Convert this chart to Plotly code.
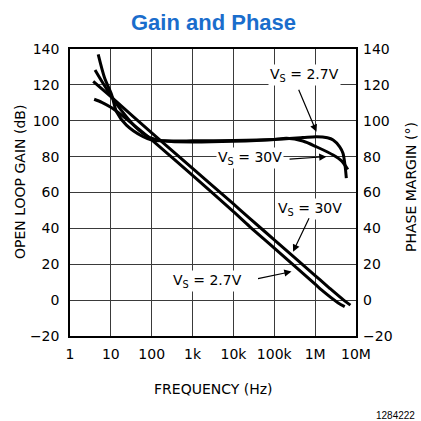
import plotly.graph_objects as go

# ---- data ----
gain_30v_f = [3.7, 10, 100, 1e3, 1e4, 2.5e4, 1e5, 1e6, 2.27e6, 5e6, 7.3e6]
gain_30v_db = [122, 113.4, 93.3, 73.4, 53.6, 45.6, 33.6, 13.7, 6.6, 0, -2.8]

gain_27v_f = [3.9, 6, 10, 20, 50, 100, 1e3, 1e4, 2.5e4, 1e5, 1e6, 1.43e6, 3.6e6, 5.3e6]
gain_27v_db = [112, 110.3, 107.5, 102.5, 95, 89.3, 69.5, 49.3, 41, 29, 8.9, 5.7, -1.4, -3.6]

phase_27v_f = [4.9, 7, 10.5, 13.8, 24, 62, 100, 200, 1e3, 1e4, 1e5, 5e5, 1.07e6, 2e6,
               2.76e6, 4e6, 4.8e6, 5.4e6, 5.8e6]
phase_27v_deg = [137, 124, 114.4, 105, 97.6, 91.1, 89.3, 88.8, 88.8, 89, 89.6, 90.6, 91.1, 90.5,
                 89.3, 85.5, 81.9, 75, 68]

phase_30v_f = [4.1, 6, 10, 20, 40, 80, 150, 300, 1e3, 1e4, 1e5, 2e5, 5e5, 1.07e6, 2.76e6, 4.5e6, 6.3e6]
phase_30v_deg = [128.3, 122, 114, 104.5, 96.5, 91.2, 89.2, 88.4, 88.2, 88.6, 89.6, 90.2, 88.7, 85.5,
                 80.9, 77.5, 72.8]

x_tick_vals = [1, 10, 100, 1e3, 1e4, 1e5, 1e6, 1e7]
x_tick_text = ["1", "10", "100", "1k", "10k", "100k", "1M", "10M"]
y_tick_vals = [-20, 0, 20, 40, 60, 80, 100, 120, 140]
y_tick_text = ["\u221220", "0", "20", "40", "60", "80", "100", "120", "140"]

FONT = "DejaVu Sans"
LW = 3
NB = "\u00a0"

fig = go.Figure()
for f, v, ax in [(gain_30v_f, gain_30v_db, "y"), (gain_27v_f, gain_27v_db, "y"),
                 (phase_27v_f, phase_27v_deg, "y2"), (phase_30v_f, phase_30v_deg, "y2")]:
    fig.add_trace(go.Scatter(x=f, y=v, yaxis=ax, mode="lines",
                             line=dict(color="black", width=LW, shape="spline", smoothing=0.8),
                             showlegend=False, hoverinfo="skip"))

tickfont = dict(family=FONT, size=14, color="black")
axis_common = dict(showgrid=True, gridcolor="#3a3a3a", gridwidth=1, zeroline=False,
                   ticks="", tickfont=tickfont)

fig.update_layout(
    width=421, height=421, autosize=False,
    margin=dict(l=70, r=65, t=49, b=85),
    paper_bgcolor="white", plot_bgcolor="white",
    xaxis=dict(type="log", range=[0, 7], tickvals=x_tick_vals, ticktext=x_tick_text,
               showline=True, linecolor="black", linewidth=1.5, mirror=True,
               ticklabelstandoff=4, **axis_common),
    yaxis=dict(range=[-20, 140], tickvals=y_tick_vals, ticktext=y_tick_text,
               showline=True, linecolor="black", linewidth=1.5, mirror=True,
               ticklabelstandoff=6, **axis_common),
    yaxis2=dict(range=[-20, 140], tickvals=y_tick_vals, ticktext=y_tick_text, overlaying="y",
                side="right", showgrid=False, zeroline=False, ticks="", ticklabelstandoff=6,
                tickfont=tickfont),
)

txt = dict(family=FONT, size=14, color="black")


def paper_note(text, px, py, font, angle=0, xanchor="center"):
    return dict(text=text, xref="paper", yref="paper", x=(px - 70) / 286, y=(336 - py) / 287,
                xanchor=xanchor, yanchor="middle", textangle=angle, showarrow=False, font=font)


annotations = [
    paper_note("<b>Gain and Phase</b>", 213.5, 22,
               dict(family="Liberation Sans", size=22, color="#1a6dcc")),
    paper_note("OPEN LOOP GAIN (dB)", 20, 182, txt, angle=-90),
    paper_note("PHASE MARGIN (\u00b0)", 411, 187, txt, angle=-90),
    paper_note("FREQUENCY (Hz)", 213, 388.5, txt),
    paper_note("1284222", 417, 415, dict(family="Liberation Sans", size=10, color="black"),
               xanchor="right"),
]

labels = [
    ("V<sub>S</sub>" + NB + "=" + NB + "2.7V", 5.746, 125.5),
    ("V<sub>S</sub>" + NB + "=" + NB + "30V", 4.401, 79.2),
    ("V<sub>S</sub>" + NB + "=" + NB + "30V", 5.868, 50.8),
    ("V<sub>S</sub>" + NB + "=" + NB + "2.7V", 3.374, 10.7),
]
for t, lx, ly in labels:
    annotations.append(dict(text=t, x=lx, y=ly, xref="x", yref="y", showarrow=False,
                            xanchor="center", yanchor="middle",
                            font=txt, bgcolor="white", borderpad=1))

arrows = [
    ((5.582, 118.1), (6.032, 93.9)),
    ((5.337, 78.5), (6.276, 80.0)),
    ((5.868, 46.5), (5.460, 27.0)),
    ((4.565, 11.8), (5.421, 15.9)),
]
for (tx, ty), (hx, hy) in arrows:
    annotations.append(dict(text="", x=hx, y=hy, xref="x", yref="y", ax=tx, ay=ty,
                            axref="x", ayref="y", showarrow=True, arrowhead=2,
                            arrowsize=1.2, arrowwidth=1.2, arrowcolor="black"))

fig.update_layout(annotations=annotations)
fig.write_html("out.html", config={"displayModeBar": False},
               post_script="document.body.style.margin='0';document.body.style.overflow='hidden';")
